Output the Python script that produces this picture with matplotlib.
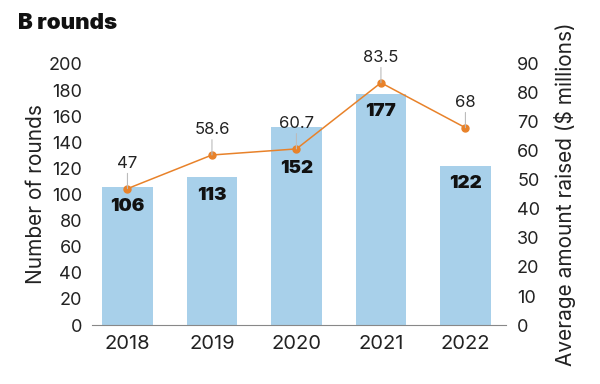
import matplotlib
matplotlib.use("Agg")
import matplotlib.pyplot as plt

years = ["2018", "2019", "2020", "2021", "2022"]
rounds = [106, 113, 152, 177, 122]
avg_amount = [47, 58.6, 60.7, 83.5, 68]
avg_labels = ["47", "58.6", "60.7", "83.5", "68"]

plt.rcParams['font.family'] = ['Inter', 'DejaVu Sans']

BAR = "#a8d0ea"
LINE = "#e8822a"
TXT = "#222222"

fig = plt.figure(figsize=(6.0, 3.84), dpi=100)
ax = fig.add_axes([0.1533, 0.1536, 0.69, 0.68])
x = list(range(len(years)))
ax.bar(x, rounds, width=0.6, color=BAR, zorder=1)
ax.set_xlim(-0.42, 4.48)
ax.set_ylim(0, 200)
ax.set_yticks(range(0, 201, 20))
ax.set_xticks(x)
ax.set_xticklabels(years)
for s in ["top", "left", "right"]:
    ax.spines[s].set_visible(False)
ax.spines["bottom"].set_color("#888888")
ax.tick_params(axis="y", length=0, labelsize=13, colors=TXT, pad=7)
ax.tick_params(axis="x", length=0, labelsize=14.5, colors=TXT, pad=7)
ax.set_ylabel("Number of rounds", fontsize=15, color=TXT, labelpad=2)

ax2 = ax.twinx()
ax2.set_ylim(0, 90)
ax2.set_yticks(range(0, 91, 10))
for s in ["top", "left", "right", "bottom"]:
    ax2.spines[s].set_visible(False)
ax2.tick_params(axis="y", length=0, labelsize=13, colors=TXT, pad=8)
ax2.set_ylabel("Average amount raised ($ millions)", fontsize=15, color=TXT, labelpad=10)
ax2.plot(x, avg_amount, color=LINE, lw=1.1, marker="o", ms=5, zorder=3)
for xi, v, lab in zip(x, avg_amount, avg_labels):
    ax2.annotate("", xy=(xi, v), xytext=(0, 11), textcoords="offset points",
                 arrowprops=dict(arrowstyle="-", color="#bbbbbb", lw=0.8, shrinkA=0, shrinkB=0))
    ax2.annotate(lab, (xi, v), xytext=(0, 18), textcoords="offset points",
                 ha="center", va="center", fontsize=12, color=TXT)

bar_label_offsets = [-14, -13, -30, -13, -13]
for xi, v, off in zip(x, rounds, bar_label_offsets):
    ax2.annotate(str(v), (xi, v), xycoords=ax.transData, xytext=(0, off), textcoords="offset points",
                 ha="center", va="center", fontsize=13.5, fontweight="black", color="#111111", zorder=5)

fig.text(0.03, 0.94, "B rounds", fontsize=16, fontweight="black", color="#111111", va="center")

fig.savefig("out.png", dpi=100)
